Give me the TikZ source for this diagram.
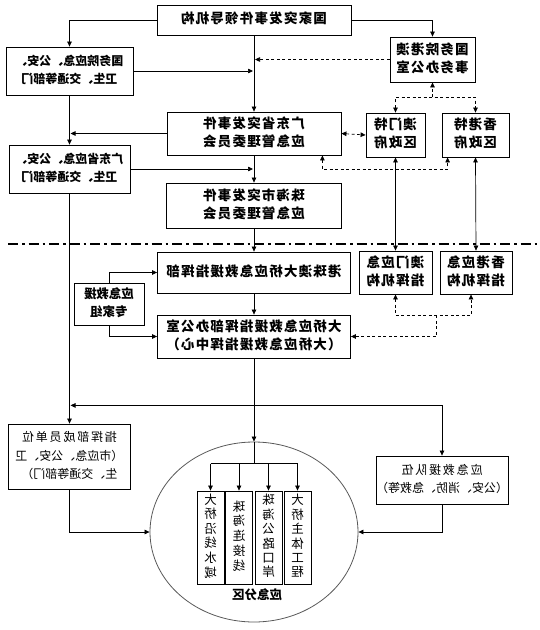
\documentclass[tikz,border=0pt]{standalone}
\usepackage{fontspec}
\setmainfont{Noto Sans CJK SC}
\usepackage{graphicx}
\usetikzlibrary{arrows.meta,shapes.geometric,calc}

\newcommand\mirr[1]{\reflectbox{\begin{tabular}{@{}c@{}}#1\end{tabular}}}
\newcommand\bigfnt{\fontsize{13.5}{18}\selectfont\bfseries\addfontfeature{LetterSpace=9}}
\newcommand\sidefnt{\fontsize{12}{18}\selectfont\bfseries}
\newcommand\lowfnt{\fontsize{12}{18.5}\selectfont}
\newcommand\zonefnt{\fontsize{12.5}{14}\selectfont}

\tikzset{
  box/.style={draw, line width=0.8pt, inner sep=0pt, font=\bigfnt},
  sidebox/.style={box, font=\sidefnt},
  lowbox/.style={box, font=\lowfnt},
  vbox/.style={box, font=\zonefnt, minimum width=27pt, minimum height=93pt},
  arr/.style={line width=0.7pt, -{Triangle[length=5pt,width=4.5pt]}},
  arr2/.style={line width=0.7pt, {Triangle[length=5pt,width=4.5pt]}-{Triangle[length=5pt,width=4.5pt]}},
  dsh/.style={dash pattern=on 3pt off 2.5pt}
}

\begin{document}
\begin{tikzpicture}[x=1pt,y=-1pt]
\useasboundingbox (0,0) rectangle (539,630);

% upper part
\node[box, minimum width=194pt, minimum height=30pt] (lead) at (254,20) {\mirr{国家突发事件领导机构}};
\node[sidebox, minimum width=127pt, minimum height=48pt] (gwyDept) at (69.5,71) {\mirr{国务院应急、公安、\\卫生、交通等部门}};
\node[box, minimum width=85pt, minimum height=45pt] (hmo) at (432.5,59.5) {\mirr{国务院港澳\\事务办公室}};
\node[box, minimum width=174pt, minimum height=43pt] (gd) at (254,133.5) {\mirr{广东省突发事件\\应急管理委员会}};
\node[sidebox, minimum width=121pt, minimum height=48pt] (gdDept) at (69.5,169) {\mirr{广东省应急、公安、\\卫生、交通等部门}};
\node[box, minimum width=59pt, minimum height=44pt] (mo) at (395.5,135) {\mirr{澳门特\\区政府}};
\node[box, minimum width=67pt, minimum height=44pt] (hk) at (475.5,135) {\mirr{香港特\\区政府}};
\node[box, minimum width=175pt, minimum height=45pt] (zh) at (254,205.5) {\mirr{珠海市突发事件\\应急管理委员会}};

% lower part
\node[box, minimum width=193pt, minimum height=41pt] (hzm) at (254,272.5) {\mirr{港珠澳大桥应急救援指挥部}};
\node[box, minimum width=73pt, minimum height=43pt] (moCmd) at (395.5,272.5) {\mirr{澳门应急\\指挥机构}};
\node[box, minimum width=72pt, minimum height=43pt] (hkCmd) at (476,272.5) {\mirr{香港应急\\指挥机构}};
\node[box, minimum width=70pt, minimum height=42pt, font=\fontsize{12.5}{18}\selectfont\bfseries] (expert) at (109,304) {\mirr{应急救援\\专家组}};
\node[box, minimum width=193pt, minimum height=43pt] (office) at (254,336.5) {\mirr{大桥应急救援指挥部办公室\\（大桥应急救援指挥中心）}};
\node[lowbox, minimum width=122pt, minimum height=65pt] (member) at (69.5,456.5) {\mirr{{\addfontfeature{LetterSpace=15}指挥部成员单位}\\（市应急、公安、卫\\生、交通等部门）}};
\node[lowbox, minimum width=128pt, minimum height=48pt] (rescue) at (442,480) {\mirr{{\addfontfeature{LetterSpace=15}应急救援队伍}\\（公安、消防、急救等）}};

\node[draw=black!65, line width=0.8pt, ellipse, minimum width=208pt, minimum height=180pt, inner sep=0pt] (zone) at (254,532) {};
\node[vbox] (zA) at (210.5,537.5) {\mirr{大\\桥\\沿\\线\\水\\域}};
\node[vbox] (zB) at (239,537.5) {\mirr{珠\\海\\连\\接\\线\\ }};
\node[vbox] (zC) at (268.5,537.5) {\mirr{珠\\海\\公\\路\\口\\岸}};
\node[vbox] (zD) at (297.5,537.5) {\mirr{大\\桥\\主\\体\\工\\程}};
\node[font=\fontsize{12.5}{14}\selectfont\bfseries] (zoneLbl) at (257,596) {\mirr{应急分区}};

\coordinate (hmoJ) at ($(hmo.south)+(0,15)$);
\coordinate (cmdJ) at ($(moCmd.south)+(0,21)$);
\coordinate (cmdM) at ($(cmdJ)+(41,0)$);
\coordinate (distJ) at ($(office.south)+(0,47)$);
\coordinate (zoneJ) at ($(zone.north)+(0,22)$);

\draw[arr] (lead.west) -| (gwyDept.north);
\draw[arr] (lead.east) -| (hmo.north);
\draw[arr] (lead.south) -- (gd.north);
\draw[arr, shorten >=1pt] (gwyDept.east) -- (gwyDept.east -| gd.north);
\draw[arr, dsh, shorten >=1pt] (hmo.west) -- (hmo.west -| gd.north);
\draw[arr] (gwyDept.south) -- (gdDept.north);
\draw[arr, shorten >=1pt] (gd.west) -- (gd.west -| gwyDept.south);
\draw[arr, shorten >=1pt] (gdDept.east) -- (gdDept.east -| zh.north);
\draw[arr] (gd.south) -- (zh.north);
\draw[arr2, dsh] (gd.east) -- (mo.west);
\draw[arr2, dsh] (mo.north) |- (hmoJ) -| (hk.north);
\draw[arr, dsh] (hmoJ) -- (hmo.south);
\draw[arr2, dsh] ([xshift=-19pt]gd.south east) -- ++(0,14) -| ([xshift=6pt]hk.south west);
\draw[arr2] (mo.south) -- (moCmd.north);
\draw[arr2] (hk.south) -- (hkCmd.north);

\draw[line width=1.3pt, dash pattern=on 10pt off 4pt on 2.5pt off 4pt] (8,244) -- (539,244);

\draw[arr] (zh.south) -- (hzm.north);
\draw[arr] (hzm.south) -- (office.north);
\draw[arr] (expert.north) |- (hzm.west);
\draw[arr] (expert.south) |- (office.west);
\draw[arr2, dsh] (moCmd.south) -- (cmdJ) -| ([xshift=-5pt]hkCmd.south);
\draw[arr, dsh] (cmdM) |- (office.east);

\draw[arr] (office.south) -- (zone.north);
\draw[arr, shorten >=1pt] (distJ) -- (distJ -| member.north);
\draw[arr] (gdDept.south) -- (member.north);
\draw[arr] (distJ) -| (rescue.north);
\draw[arr] (member.south) |- (zone.west);
\draw[arr] (rescue.south) |- (zone.east);

\draw[line width=0.7pt] (zone.north) -- (zoneJ);
\draw[line width=0.7pt] (zoneJ -| zA.north) -- (zoneJ -| zD.north);
\foreach \z in {zA,zB,zC,zD}
  \draw[arr] (zoneJ -| \z.north) -- (\z.north);
\end{tikzpicture}
\end{document}
